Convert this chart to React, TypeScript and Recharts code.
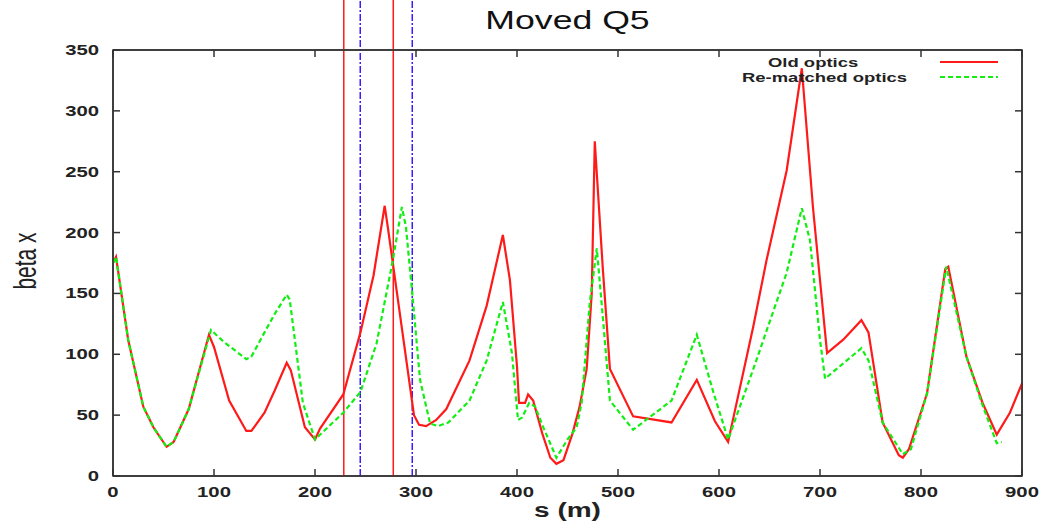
import React from 'react';
import { LineChart, Line, XAxis, YAxis, ReferenceLine, ReferenceArea, Label } from 'recharts';

const W = 1042;
const H = 521;
const FONT = '"Liberation Sans", Arial, sans-serif';

// old optics (red, solid)
const oldS = [0, 3, 15, 30, 40, 53, 60, 75, 95, 100, 115, 132, 137, 150, 160, 172, 176, 190, 200, 205, 228, 245, 258, 269, 272, 298, 303, 310, 320, 330, 353, 370, 386, 393, 400, 402, 408, 411, 416, 425, 433, 439, 446, 455, 462, 469, 474, 477, 485, 492, 515, 553, 578, 596, 609, 634, 647, 667, 682, 693, 707, 723, 741, 748, 762, 778, 782, 788, 806, 824, 827, 845, 861, 875, 888, 900];
const oldBeta = [175, 180, 112, 57, 40, 24, 28, 55, 116, 106, 62, 37, 37, 52, 70, 93, 87, 40, 30, 39, 67, 118, 165, 222, 205, 50, 42, 41, 46, 55, 95, 140, 198, 161, 90, 60, 60, 67, 62, 35, 15, 10, 13, 35, 57, 88, 150, 275, 170, 88, 49, 44, 79, 45, 28, 123, 177, 251, 335, 221, 101, 112, 128, 118, 44, 17, 15, 22, 68, 170, 172, 98, 60, 34, 52, 76];

// re-matched optics (green, dashed)
const newS = [0, 3, 15, 30, 40, 53, 60, 75, 97, 110, 132, 137, 150, 160, 172, 175, 188, 200, 228, 245, 261, 277, 286, 290, 296, 304, 314, 322, 332, 353, 370, 386, 395, 401, 405, 412, 418, 425, 439, 450, 459, 464, 472, 479, 484, 492, 515, 553, 578, 594, 609, 634, 667, 682, 690, 700, 705, 741, 748, 762, 782, 790, 806, 825, 845, 861, 875, 880];
const newBeta = [175, 180, 112, 57, 40, 24, 28, 55, 120, 110, 96, 98, 118, 133, 149, 145, 60, 30, 52, 69, 109, 177, 221, 205, 153, 79, 43, 41, 44, 62, 95, 143, 101, 46, 48, 60, 57, 42, 15, 30, 40, 60, 142, 187, 140, 62, 38, 62, 116, 70, 30, 88, 167, 220, 194, 112, 80, 105, 95, 44, 18, 22, 68, 172, 98, 58, 27, 28];

// quadrupole markers in s (m)
const oldQuadS = [228.5, 277.5];
const newQuadS = [244.8, 296.3];
const markerTop = 391;

const xTicks = [0, 100, 200, 300, 400, 500, 600, 700, 800, 900];
const yTicks = [0, 50, 100, 150, 200, 250, 300, 350];

const oldData = oldS.map((s, i) => ({ s, beta: oldBeta[i] }));
const newData = newS.map((s, i) => ({ s, beta: newBeta[i] }));

const series = [
  { name: 'Old optics', data: oldData, color: '#ff1a1a', dash: undefined as string | undefined },
  { name: 'Re-matched optics', data: newData, color: '#11ee11', dash: '5 3' },
];

const AXIS = '#333';
const SX = 1.45;

const BottomTick = ({ x, y, payload }: any) => (
  <g transform={`translate(${x},${y})`}>
    <text transform={`scale(${SX},1)`} textAnchor="middle" dy="0.71em" fontFamily={FONT} fontSize={14} fontWeight="bold" fill="#222">
      {payload.value}
    </text>
  </g>
);

const LeftTick = ({ x, y, payload }: any) => (
  <g transform={`translate(${x},${y})`}>
    <text transform={`scale(${SX},1)`} textAnchor="end" dy="0.36em" fontFamily={FONT} fontSize={14} fontWeight="bold" fill="#222">
      {payload.value}
    </text>
  </g>
);

const EmptyTick = () => <g />;

const XTitle = ({ viewBox }: any) => (
  <g transform={`translate(${viewBox.x + viewBox.width / 2},${viewBox.y + 41})`}>
    <text transform="scale(1.4,1)" textAnchor="middle" fontFamily={FONT} fontSize={20} fontWeight="bold" fill="#222">
      s (m)
    </text>
  </g>
);

const YTitle = ({ viewBox }: any) => (
  <g transform={`translate(${viewBox.x - 28},${viewBox.y + viewBox.height / 2 - 2}) scale(1.5,1) rotate(-90)`}>
    <text textAnchor="middle" dy="0.35em" fontFamily={FONT} fontSize={21} fill="#222">
      beta x
    </text>
  </g>
);

const Title = ({ viewBox }: any) => (
  <g transform={`translate(${viewBox.x + viewBox.width / 2},${viewBox.y - 16})`}>
    <text transform="scale(1.37,1)" textAnchor="middle" fontFamily={FONT} fontSize={26} fill="#111">
      Moved Q5
    </text>
  </g>
);

const legendRows = [
  { textX: 768, y: 62 },
  { textX: 742, y: 77 },
];

const ChartLegend = () => (
  <svg width={W} height={100} style={{ position: 'absolute', left: 0, top: 0, pointerEvents: 'none' }}>
    {series.map((s, i) => (
      <g key={s.name}>
        <g transform={`translate(${legendRows[i].textX},${legendRows[i].y + 4.5})`}>
          <text transform="scale(1.42,1)" fontFamily={FONT} fontSize={13} fontWeight="bold" fill="#222">
            {s.name}
          </text>
        </g>
        <line x1={940} x2={998} y1={legendRows[i].y} y2={legendRows[i].y} stroke={s.color} strokeWidth={2} strokeDasharray={s.dash} />
      </g>
    ))}
  </svg>
);

export default function App() {
  return (
    <div style={{ position: 'absolute', left: 0, top: 0, width: W, height: H, background: '#fff' }}>
      <LineChart width={W} height={H} margin={{ top: 45, right: 15, bottom: 0, left: 53 }}>
        <XAxis
          xAxisId="bottom"
          dataKey="s"
          type="number"
          domain={[0, 900]}
          ticks={xTicks}
          height={45}
          tickSize={-7}
          tickMargin={18}
          tick={<BottomTick />}
          axisLine={{ stroke: AXIS, strokeWidth: 1.5 }}
          tickLine={{ stroke: AXIS, strokeWidth: 1.5 }}
        >
          <Label content={XTitle} />
        </XAxis>
        <XAxis
          xAxisId="top"
          orientation="top"
          dataKey="s"
          type="number"
          domain={[0, 900]}
          ticks={xTicks}
          height={5}
          tickSize={-7}
          tickMargin={0}
          tick={<EmptyTick />}
          axisLine={{ stroke: AXIS, strokeWidth: 1.5 }}
          tickLine={{ stroke: AXIS, strokeWidth: 1.5 }}
        >
          <Label content={Title} />
        </XAxis>
        <YAxis
          yAxisId="left"
          type="number"
          domain={[0, 350]}
          ticks={yTicks}
          width={60}
          tickSize={-7}
          tickMargin={21}
          tick={<LeftTick />}
          axisLine={{ stroke: AXIS, strokeWidth: 1.5 }}
          tickLine={{ stroke: AXIS, strokeWidth: 1.5 }}
        >
          <Label content={YTitle} />
        </YAxis>
        <YAxis
          yAxisId="right"
          orientation="right"
          type="number"
          domain={[0, 350]}
          ticks={yTicks}
          width={5}
          tickSize={-7}
          tickMargin={0}
          tick={<EmptyTick />}
          axisLine={{ stroke: AXIS, strokeWidth: 1.5 }}
          tickLine={{ stroke: AXIS, strokeWidth: 1.5 }}
        />
        {/* invisible series so the mirrored top/right frame axes get a domain */}
        <Line
          xAxisId="top"
          yAxisId="right"
          data={oldData}
          dataKey="beta"
          stroke="none"
          dot={false}
          activeDot={false}
          legendType="none"
          isAnimationActive={false}
        />
        <ReferenceArea
          xAxisId="bottom"
          yAxisId="left"
          x1={0}
          x2={900}
          y1={0}
          y2={350}
          fill="none"
          stroke={AXIS}
          strokeWidth={1.5}
          ifOverflow="visible"
        />
        {oldQuadS.map((s) => (
          <ReferenceLine
            key={`o${s}`}
            xAxisId="bottom"
            yAxisId="left"
            segment={[{ x: s, y: 0 }, { x: s, y: markerTop }]}
            ifOverflow="visible"
            stroke="#ff1a1a"
            strokeWidth={1.5}
          />
        ))}
        {newQuadS.map((s) => (
          <ReferenceLine
            key={`n${s}`}
            xAxisId="bottom"
            yAxisId="left"
            segment={[{ x: s, y: 0 }, { x: s, y: markerTop }]}
            ifOverflow="visible"
            stroke="#3a1cff"
            strokeWidth={1.5}
            strokeDasharray="7 2 2 2"
          />
        ))}
        {series.map((s) => (
          <Line
            key={s.name}
            xAxisId="bottom"
            yAxisId="left"
            data={s.data}
            dataKey="beta"
            name={s.name}
            type="linear"
            stroke={s.color}
            strokeWidth={2.2}
            strokeDasharray={s.dash}
            dot={false}
            activeDot={false}
            isAnimationActive={false}
          />
        ))}
      </LineChart>
      <ChartLegend />
    </div>
  );
}
